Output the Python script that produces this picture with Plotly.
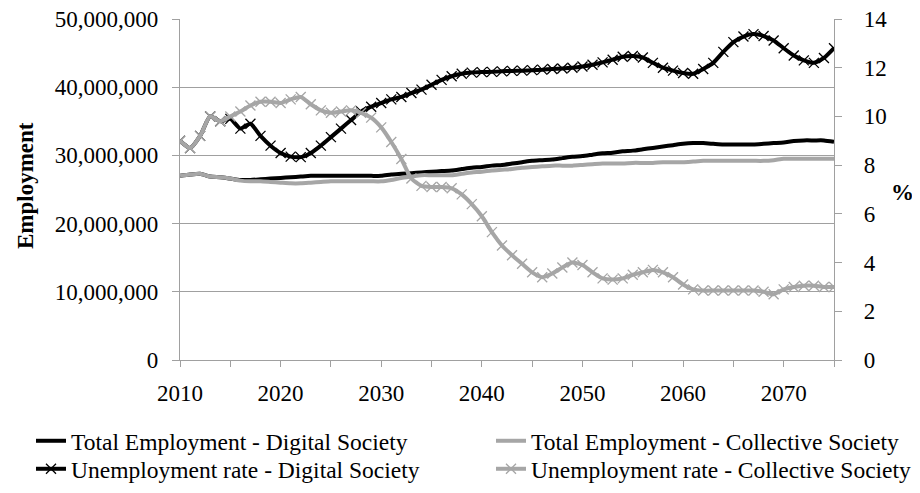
import plotly.graph_objects as go

years = list(range(2010, 2076))

total_emp_digital = [
    27.0, 27.2, 27.3, 26.9, 26.8, 26.6, 26.4, 26.4, 26.5, 26.6,
    26.7, 26.8, 26.9, 27.0, 27.0, 27.0, 27.0, 27.0, 27.0, 27.0,
    27.0, 27.2, 27.3, 27.4, 27.5, 27.6, 27.7, 27.8, 28.0, 28.2,
    28.3, 28.5, 28.6, 28.8, 29.0, 29.2, 29.3, 29.4, 29.6, 29.8,
    29.9, 30.1, 30.3, 30.4, 30.6, 30.7, 30.9, 31.1, 31.3, 31.5,
    31.7, 31.8, 31.8, 31.7, 31.6, 31.6, 31.6, 31.6, 31.7, 31.8,
    31.9, 32.1, 32.2, 32.2, 32.2, 32.0,
]

total_emp_collective = [
    27.0, 27.2, 27.3, 26.9, 26.8, 26.6, 26.3, 26.2, 26.2, 26.1,
    26.0, 25.9, 25.9, 26.0, 26.1, 26.2, 26.2, 26.2, 26.2, 26.2,
    26.2, 26.4, 26.7, 26.9, 27.1, 27.1, 27.1, 27.1, 27.3, 27.5,
    27.6, 27.8, 27.9, 28.0, 28.2, 28.3, 28.4, 28.5, 28.5, 28.5,
    28.6, 28.7, 28.8, 28.8, 28.8, 28.9, 28.9, 28.9, 29.0, 29.0,
    29.0, 29.1, 29.2, 29.2, 29.2, 29.2, 29.2, 29.2, 29.2, 29.3,
    29.5, 29.5, 29.5, 29.5, 29.5, 29.5,
]

unemp_digital = [
    9.0, 8.7, 9.2, 10.0, 9.8, 9.9, 9.5, 9.7, 9.2, 8.8,
    8.5, 8.35, 8.33, 8.5, 8.8, 9.15, 9.5, 9.85, 10.2, 10.4,
    10.55, 10.7, 10.8, 10.96, 11.1, 11.3, 11.5, 11.65, 11.75, 11.8,
    11.82, 11.83, 11.85, 11.87, 11.88, 11.9, 11.92, 11.95, 11.97, 12.0,
    12.05, 12.12, 12.22, 12.33, 12.45, 12.48, 12.42, 12.2, 12.0, 11.88,
    11.78, 11.75, 11.95, 12.2, 12.65, 13.05, 13.28, 13.38, 13.3, 13.12,
    12.8, 12.5, 12.3, 12.2, 12.4, 12.8,
]

unemp_collective = [
    9.0, 8.7, 9.2, 10.0, 9.8, 10.0, 10.2, 10.45, 10.6, 10.6,
    10.55, 10.7, 10.8, 10.5, 10.25, 10.15, 10.2, 10.25, 10.15, 9.95,
    9.55, 8.95, 8.25, 7.45, 7.15, 7.1, 7.1, 7.05, 6.8, 6.4,
    5.9, 5.25, 4.7, 4.3, 3.95, 3.6, 3.4, 3.55, 3.8, 4.0,
    3.9, 3.6, 3.35, 3.3, 3.35, 3.5, 3.6, 3.7, 3.6, 3.4,
    3.1, 2.9, 2.85, 2.85, 2.85, 2.85, 2.85, 2.85, 2.8, 2.7,
    2.9, 3.0, 3.05, 3.05, 3.0, 3.0,
]

x_tick_labels = [2010, 2020, 2030, 2040, 2050, 2060, 2070]

BLACK = "#000000"
GRAY = "#A6A6A6"
AXIS = "#A0A0A0"
FONT = "Liberation Serif"
FS = 23
LFS = 23.5

# the page body has an 8 px margin; size the figure to fit the window
OFF = 8
FW, FH = 920 - OFF, 493 - OFF
L, T, W, H = 180 - OFF, 19 - OFF, 654, 341
B = T + H


def px(x):
    return (x - OFF - L) / W


def py(y):
    return (B - (y - OFF)) / H


fig = go.Figure()

fig.add_trace(go.Scatter(
    x=years, y=[v * 1e6 for v in total_emp_digital], mode="lines",
    name="Total Employment - Digital Society",
    line=dict(color=BLACK, width=4, shape="spline", smoothing=0.6),
    yaxis="y", legend="legend",
))
fig.add_trace(go.Scatter(
    x=years, y=[v * 1e6 for v in total_emp_collective], mode="lines",
    name="Total Employment - Collective Society",
    line=dict(color=GRAY, width=4, shape="spline", smoothing=0.6),
    yaxis="y", legend="legend2",
))
fig.add_trace(go.Scatter(
    x=years, y=unemp_digital, mode="lines+markers",
    name="Unemployment rate - Digital Society",
    line=dict(color=BLACK, width=4, shape="spline", smoothing=0.6),
    marker=dict(symbol="x-thin", size=10, line=dict(color=BLACK, width=1.3)),
    yaxis="y2", legend="legend3",
))
fig.add_trace(go.Scatter(
    x=years, y=unemp_collective, mode="lines+markers",
    name="Unemployment rate - Collective Society",
    line=dict(color=GRAY, width=4, shape="spline", smoothing=0.6),
    marker=dict(symbol="x-thin", size=10, line=dict(color=GRAY, width=1.3)),
    yaxis="y2", legend="legend4",
))

legend_common = dict(
    orientation="v", xanchor="left", yanchor="top",
    font=dict(family=FONT, size=LFS, color="black"),
    tracegroupgap=0, itemwidth=30, bgcolor="rgba(0,0,0,0)",
)

col1_x = px(31)
col2_x = px(491)
row1_y = py(419)
row2_y = py(447)

fig.update_layout(
    width=FW, height=FH,
    margin=dict(l=L, r=FW - L - W, t=T, b=FH - B, autoexpand=False),
    paper_bgcolor="white", plot_bgcolor="white",
    font=dict(family=FONT, size=FS, color="black"),
    showlegend=True,
    legend=dict(x=col1_x, y=row1_y, **legend_common),
    legend2=dict(x=col2_x, y=row1_y, **legend_common),
    legend3=dict(x=col1_x, y=row2_y, **legend_common),
    legend4=dict(x=col2_x, y=row2_y, **legend_common),
    xaxis=dict(
        range=[2010, 2075], tickmode="array", tickvals=x_tick_labels,
        ticktext=[str(v) for v in x_tick_labels],
        ticks="outside", ticklen=6, tickcolor=AXIS,
        minor=dict(dtick=5, tick0=2010, ticks="outside", ticklen=6, tickcolor=AXIS, showgrid=False),
        showline=True, linecolor=AXIS, linewidth=1.3,
        showgrid=False, zeroline=False,
        tickfont=dict(family=FONT, size=FS, color="black"),
        ticklabelstandoff=6, ticklabeloverflow="allow",
    ),
    yaxis=dict(
        range=[0, 50e6], dtick=10e6, tickformat=",",
        ticks="outside", ticklen=7, tickcolor=AXIS,
        showline=True, linecolor=AXIS, linewidth=1.3,
        showgrid=True, gridcolor=AXIS, gridwidth=1.3, zeroline=False,
        tickfont=dict(family=FONT, size=FS, color="black"),
        ticklabelstandoff=9, ticklabeloverflow="allow",
    ),
    yaxis2=dict(
        range=[0, 14], dtick=2, overlaying="y", side="right",
        ticks="outside", ticklen=7, tickcolor=AXIS,
        showline=True, linecolor=AXIS, linewidth=1.3,
        showgrid=False, zeroline=False,
        tickfont=dict(family=FONT, size=FS, color="black"),
        ticklabelstandoff=17, ticklabeloverflow="allow",
    ),
    annotations=[
        dict(text="<b>Employment</b>", xref="paper", yref="paper",
             x=px(25), y=py(186), xanchor="center", yanchor="middle",
             textangle=-90, showarrow=False,
             font=dict(family=FONT, size=FS, color="black")),
        dict(text="<b>%</b>", xref="paper", yref="paper",
             x=px(902), y=py(192), xanchor="center", yanchor="middle",
             showarrow=False,
             font=dict(family=FONT, size=FS, color="black")),
    ],
)

fig.write_html("out.html")
